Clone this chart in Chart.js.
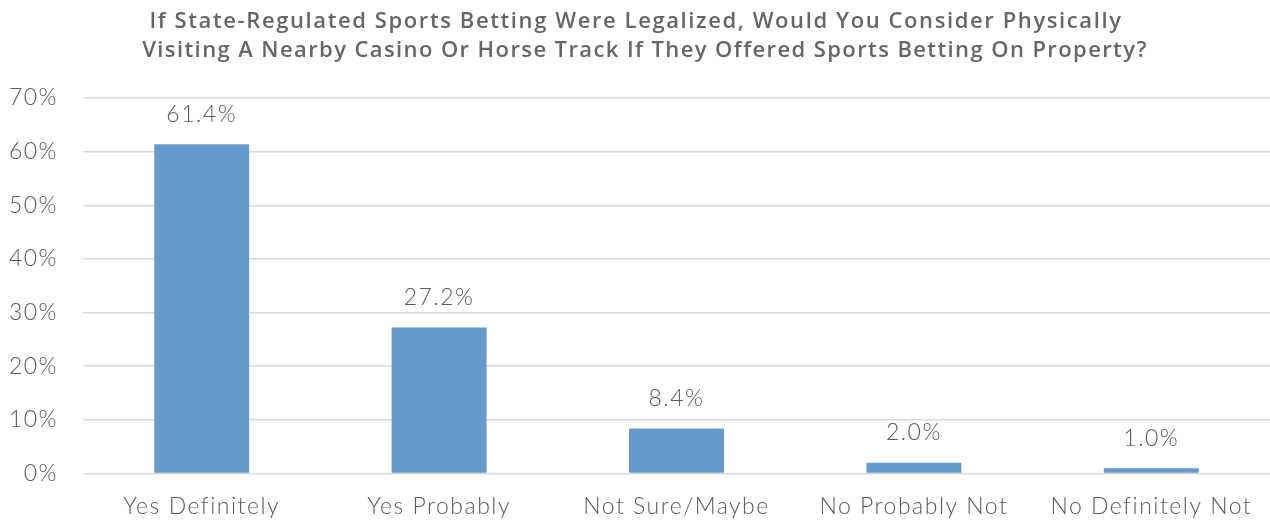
<!DOCTYPE html>
<html>
<head>
<meta charset="utf-8">
<script src="https://cdn.jsdelivr.net/npm/chart.js@4/dist/chart.umd.min.js"></script>
<style>
  html, body { margin: 0; padding: 0; background: #ffffff; }
  #wrap { width: 1270px; height: 521px; position: relative; }
</style>
</head>
<body>
<div id="wrap"><canvas id="chart" width="1270" height="521"></canvas></div>
<script>
const titleLines = [
  'If State-Regulated Sports Betting Were Legalized, Would You Consider Physically',
  'Visiting A Nearby Casino Or Horse Track If They Offered Sports Betting On Property?'
];
const categories = ['Yes Definitely', 'Yes Probably', 'Not Sure/Maybe', 'No Probably Not', 'No Definitely Not'];
const shares = [61.4, 27.2, 8.4, 2.0, 1.0];
const yTicks = [0, 10, 20, 30, 40, 50, 60, 70];

const textGray = '#595959';
const barBlue = '#6699cc';
const gridGray = '#d9d9d9';
const fontFamily = 'Lato, "Open Sans", sans-serif';

// Slightly open letter spacing for all text on the canvas
const spacingPlugin = {
  id: 'spacing',
  beforeDraw(chart) {
    chart.ctx.letterSpacing = '1.5px';
  }
};

// Two-line heading drawn above the plot area
const headingPlugin = {
  id: 'heading',
  afterDraw(chart) {
    const ctx = chart.ctx;
    ctx.save();
    ctx.fillStyle = '#666666';
    ctx.font = '600 22px "Open Sans", sans-serif';
    ctx.textAlign = 'center';
    ctx.textBaseline = 'alphabetic';
    ctx.letterSpacing = '1.6px';
    ctx.fillText(titleLines[0], 636, 28);
    ctx.letterSpacing = '1.4px';
    ctx.fillText(titleLines[1], 645, 57);
    ctx.restore();
  }
};

// Percentage labels above each bar
const valueLabelPlugin = {
  id: 'valueLabels',
  afterDatasetsDraw(chart) {
    const ctx = chart.ctx;
    const meta = chart.getDatasetMeta(0);
    ctx.save();
    ctx.fillStyle = textGray;
    ctx.font = '300 23px ' + fontFamily;
    ctx.letterSpacing = '1.5px';
    ctx.textAlign = 'center';
    ctx.textBaseline = 'middle';
    meta.data.forEach((bar, i) => {
      ctx.fillText(shares[i].toFixed(1) + '%', bar.x, bar.y - 30);
    });
    ctx.restore();
  }
};

new Chart(document.getElementById('chart'), {
  type: 'bar',
  data: {
    labels: categories,
    datasets: [{
      data: shares,
      backgroundColor: barBlue,
      borderWidth: 0,
      categoryPercentage: 1,
      barPercentage: 0.40
    }]
  },
  options: {
    responsive: false,
    animation: false,
    layout: { padding: { top: 98, right: 0, bottom: 0, left: 0 } },
    plugins: {
      legend: { display: false },
      title: { display: false },
      tooltip: { enabled: false }
    },
    scales: {
      x: {
        grid: { display: false, drawTicks: false },
        border: { display: false },
        ticks: {
          color: textGray,
          font: { family: fontFamily, size: 23, weight: '300' },
          padding: 19
        },
        afterFit(scale) { scale.height = 47.5; }
      },
      y: {
        min: 0,
        max: 70,
        afterBuildTicks(scale) { scale.ticks = yTicks.map(v => ({ value: v })); },
        grid: { color: gridGray, lineWidth: 1.5, drawTicks: false },
        border: { display: false },
        ticks: {
          color: textGray,
          font: { family: fontFamily, size: 23, weight: '300' },
          padding: 25,
          callback: v => v + '%'
        },
        afterFit(scale) { scale.width = 83; }
      }
    }
  },
  plugins: [spacingPlugin, headingPlugin, valueLabelPlugin]
});
</script>
</body>
</html>
